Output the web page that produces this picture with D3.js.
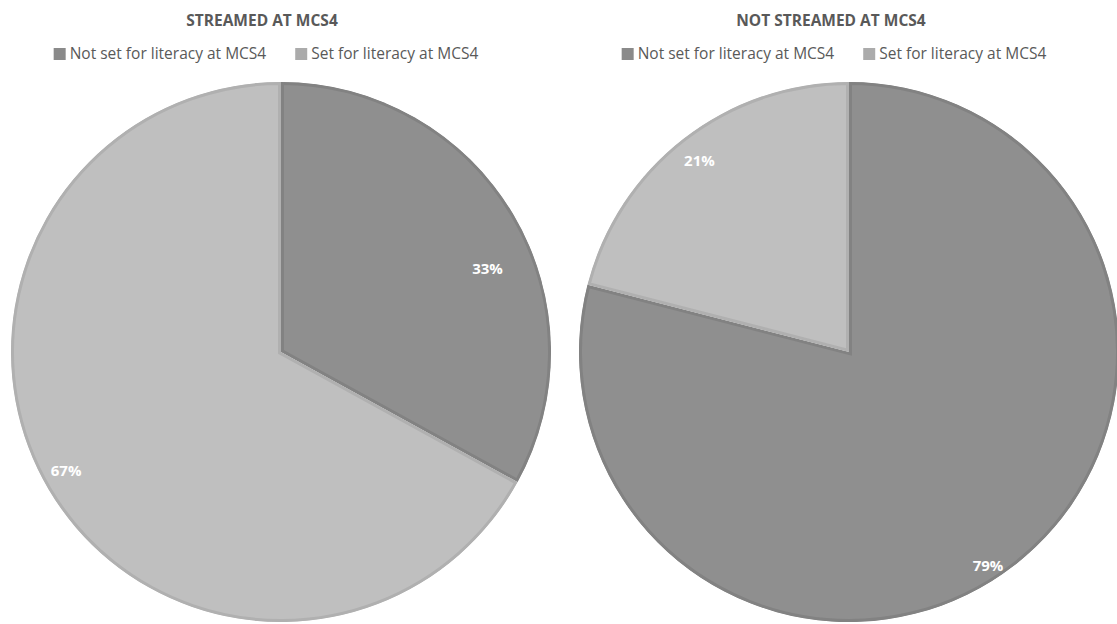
<!DOCTYPE html>
<html>
<head>
<meta charset="utf-8">
<script src="https://cdn.jsdelivr.net/npm/d3@7"></script>
<style>
  html, body { margin: 0; padding: 0; background: #fff; }
  svg { display: block; }
</style>
</head>
<body>
<svg id="chart" width="1117" height="624"></svg>
<script>
// Chart content
const categories = ["Not set for literacy at MCS4", "Set for literacy at MCS4"];
const panelTitles = ["STREAMED AT MCS4", "NOT STREAMED AT MCS4"];
const streamedValues = [33, 67];
const notStreamedValues = [79, 21];

// Styling
const fills = ["#8f8f8f", "#bfbfbf"];
const strokes = ["#828282", "#b0b0b0"];
const legendFills = ["#8a8a8a", "#ababab"];
const textColor = "#595959";
const fontFamily = "'Open Sans', 'Noto Sans', sans-serif";

// Layout of the two panels
const W = 1117, H = 624;
const radius = 270;
const panels = [
  { title: panelTitles[0], values: streamedValues, cx: 281, cy: 352, headerX: 262, legendX: 266,
    // label placement: angle (degrees clockwise from 12 o'clock) and fraction of radius
    labels: [{ a: 68, f: 0.825 }, { a: 241, f: 0.91 }] },
  { title: panelTitles[1], values: notStreamedValues, cx: 849, cy: 352, headerX: 831, legendX: 834,
    labels: [{ a: 147, f: 0.945 }, { a: 322, f: 0.90 }] }
];

const svg = d3.select("#chart");
const defs = svg.append("defs");

const pie = d3.pie().sort(null).value(d => d).startAngle(0).endAngle(2 * Math.PI);
const arc = d3.arc().innerRadius(0).outerRadius(radius);

panels.forEach((p, pi) => {
  const g = svg.append("g");

  // Title
  g.append("text")
    .attr("x", p.headerX).attr("y", 26)
    .attr("text-anchor", "middle")
    .style("font-family", fontFamily)
    .style("font-weight", "bold")
    .style("font-size", "15.5px")
    .style("fill", textColor)
    .text(p.title);

  // Legend: measure items so the row is centered
  const legend = g.append("g");
  const items = legend.selectAll("g.item").data(categories).join("g").attr("class", "item");
  items.append("rect").attr("width", 12).attr("height", 12).attr("y", -11)
    .attr("fill", (d, i) => legendFills[i]);
  items.append("text").attr("x", 16).attr("y", 0)
    .style("font-family", fontFamily)
    .style("font-size", "15.5px")
    .style("fill", textColor)
    .text(d => d);
  let x = 0;
  const gap = 29;
  items.each(function () {
    const it = d3.select(this);
    it.attr("transform", `translate(${x},0)`);
    const w = 16 + it.select("text").node().getComputedTextLength();
    x += w + gap;
  });
  const totalW = x - gap;
  legend.attr("transform", `translate(${p.legendX - totalW / 2}, 59)`);

  // Pie slices, stroked on the inside by clipping each to its own shape
  const arcs = pie(p.values);
  const pg = g.append("g").attr("transform", `translate(${p.cx},${p.cy})`);
  arcs.forEach((a, i) => {
    defs.append("clipPath").attr("id", `clip-${pi}-${i}`)
      .append("path").attr("d", arc(a));
  });
  pg.selectAll("path.slice").data(arcs).join("path")
    .attr("class", "slice")
    .attr("d", arc)
    .attr("fill", (d, i) => fills[i])
    .attr("stroke", (d, i) => strokes[i])
    .attr("stroke-width", 6)
    .attr("stroke-linejoin", "miter")
    .attr("clip-path", (d, i) => `url(#clip-${pi}-${i})`);

  // Value labels
  pg.selectAll("text.val").data(arcs).join("text")
    .attr("class", "val")
    .attr("x", (d, i) => Math.sin(p.labels[i].a * Math.PI / 180) * radius * p.labels[i].f)
    .attr("y", (d, i) => -Math.cos(p.labels[i].a * Math.PI / 180) * radius * p.labels[i].f)
    .attr("dy", "0.35em")
    .attr("text-anchor", "middle")
    .style("font-family", fontFamily)
    .style("font-weight", "bold")
    .style("font-size", "15px")
    .style("fill", "#ffffff")
    .text(d => d.data + "%");
});
</script>
</body>
</html>
